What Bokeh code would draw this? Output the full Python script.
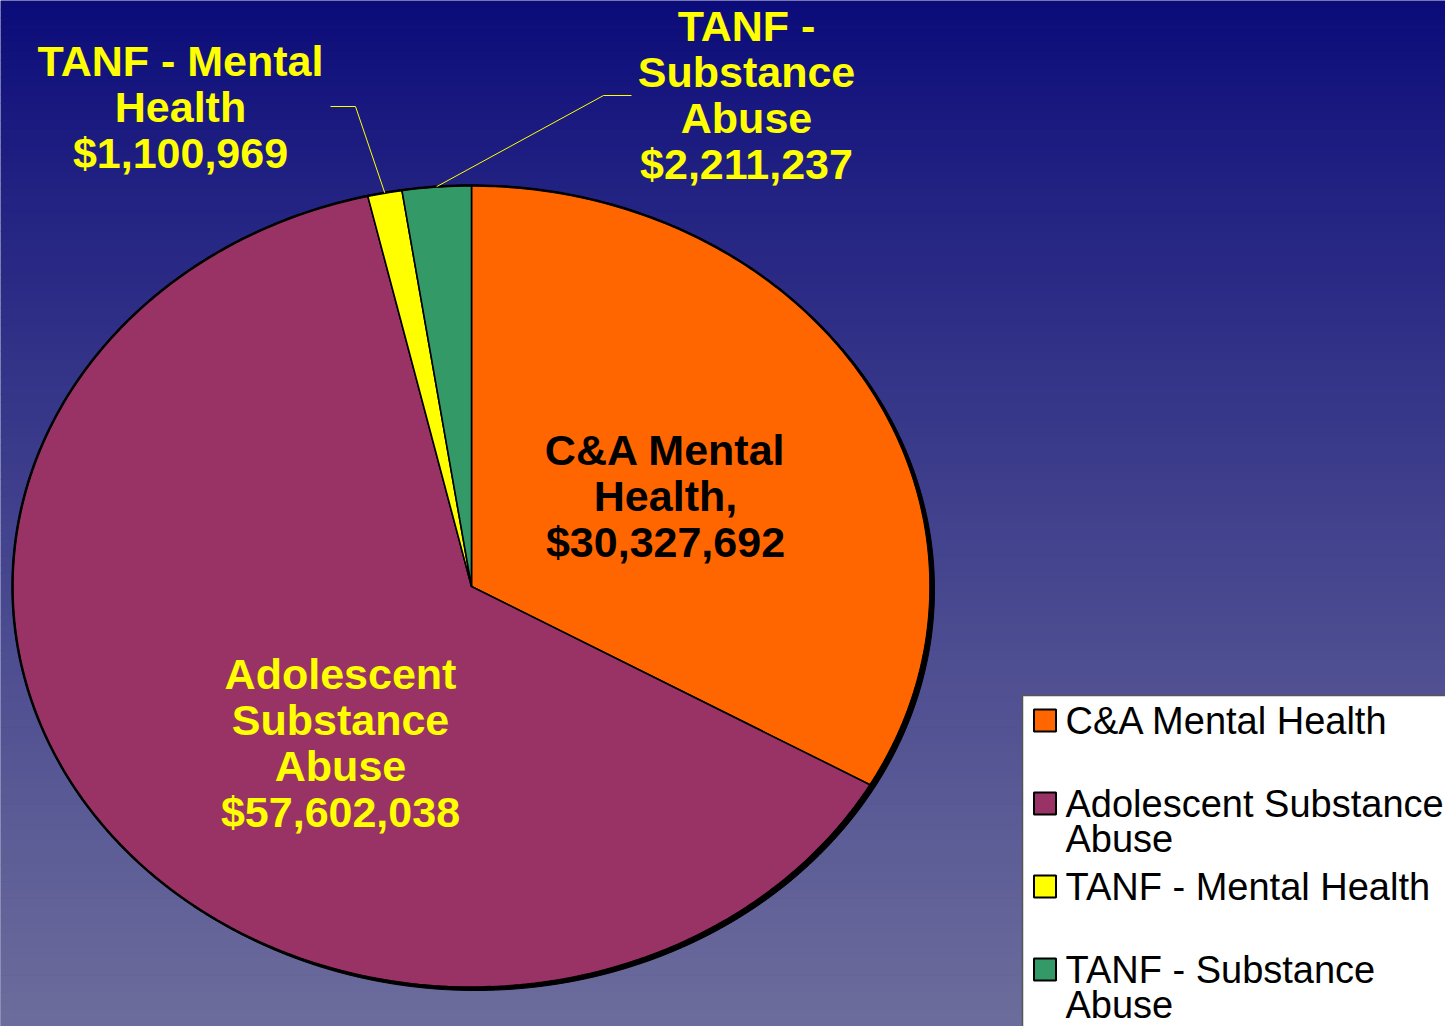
import numpy as np
from bokeh.plotting import figure
from bokeh.models import Range1d
from bokeh.core.properties import value
from bokeh.embed import file_html
from bokeh.resources import INLINE

# ---- data ----
categories = ["C&A Mental Health", "Adolescent Substance Abuse",
              "TANF - Mental Health", "TANF - Substance Abuse"]
amounts = [30327692, 57602038, 1100969, 2211237]
colors = ["#FF6600", "#993366", "#FFFF00", "#339966"]
slice_labels = ["C&A Mental\nHealth,\n$30,327,692",
                "Adolescent\nSubstance\nAbuse\n$57,602,038",
                "TANF - Mental\nHealth\n$1,100,969",
                "TANF -\nSubstance\nAbuse\n$2,211,237"]
label_colors = ["black", "#FFFF00", "#FFFF00", "#FFFF00"]
legend_labels = ["C&A Mental Health", "Adolescent Substance\nAbuse",
                 "TANF - Mental Health", "TANF - Substance\nAbuse"]

# ---- layout ----
W, H = 1445, 1026
cx, cy, rx, ry = 471, 586, 459, 401
label_pos = [(665, 449), (340, 673), (180, 60), (746, 25)]
leader_anchor = [None, None, [(330, 106), (355, 106)], [(631, 95), (603, 95)]]
LINE_STEP = 46

p = figure(width=W, height=H, output_backend="svg", toolbar_location=None,
           x_range=Range1d(0, W), y_range=Range1d(H, 0), min_border=0)
p.axis.visible = False
p.grid.visible = False
p.outline_line_color = None
p.background_fill_color = "#3c3c8a"
p.border_fill_color = "#3c3c8a"

# background gradient
n = 120
edges = np.linspace(0, H, n + 1)
top = np.array([10, 10, 122])
bot = np.array([108, 108, 156])
gcols = []
for i in range(n):
    f = ((edges[i] + edges[i + 1]) / 2) / H
    c = top + (bot - top) * (f ** 0.85)
    gcols.append("#%02x%02x%02x" % tuple(int(round(v)) for v in c))
p.quad(left=0, right=W, top=edges[:-1], bottom=edges[1:] + 0.6,
       fill_color=gcols, line_color=None)

def ell(t):
    return cx + rx * np.cos(t), cy - ry * np.sin(t)

# shadow
tt = np.linspace(0, 2 * np.pi, 400)
sx, sy = ell(tt)
p.patch(sx + 4, sy + 3, fill_color="black", line_color="black", line_width=1)

# slices (clockwise from 12 o'clock)
vals = np.array(amounts, dtype=float)
fr = vals / vals.sum()
start = np.pi / 2
xs, ys, mids = [], [], []
for f in fr:
    end = start - f * 2 * np.pi
    t = np.linspace(start, end, max(3, int(f * 600)))
    ex, ey = ell(t)
    xs.append(np.concatenate([[cx], ex, [cx]]))
    ys.append(np.concatenate([[cy], ey, [cy]]))
    mids.append((start + end) / 2)
    start = end
p.patches(xs, ys, fill_color=colors, line_color="black", line_width=1.6)
ox, oy = ell(tt)
p.line(ox, oy, line_color="black", line_width=2.5)

# leader lines
for i, anc in enumerate(leader_anchor):
    if anc is None:
        continue
    ex, ey = ell(mids[i])
    lx = [a[0] for a in anc] + [ex]
    ly = [a[1] for a in anc] + [ey]
    p.line(lx, ly, line_color="#FFFF00", line_width=1)

# slice labels
tx, ty, tl, tc = [], [], [], []
for (x0, y0), lab, col in zip(label_pos, slice_labels, label_colors):
    for k, line in enumerate(lab.split("\n")):
        tx.append(x0); ty.append(y0 + k * LINE_STEP); tl.append(line); tc.append(col)
p.text(x=tx, y=ty, text=tl, text_color=tc, text_align="center",
       text_baseline="middle", text_font=value("Liberation Sans"),
       text_font_style="bold", text_font_size="43px")

# legend
lg_left, lg_top = 1022, 695
p.quad(left=lg_left, right=W + 5, top=lg_top, bottom=H + 5,
       fill_color="white", line_color="#555555", line_width=1.5)
item_y = [720, 803, 886, 969]
p.scatter(x=[1044.5] * 4, y=item_y, marker="square", size=22,
          fill_color=colors, line_color="black", line_width=2)
lx, ly, lt = [], [], []
for y0, lab in zip(item_y, legend_labels):
    for k, line in enumerate(lab.split("\n")):
        lx.append(1065); ly.append(y0 + k * 35); lt.append(line)
p.text(x=lx, y=ly, text=lt, text_color="black", text_align="left",
       text_baseline="middle", text_font=value("Liberation Sans"),
       text_font_size="38px")

open("out.html", "w").write(file_html(p, INLINE))
